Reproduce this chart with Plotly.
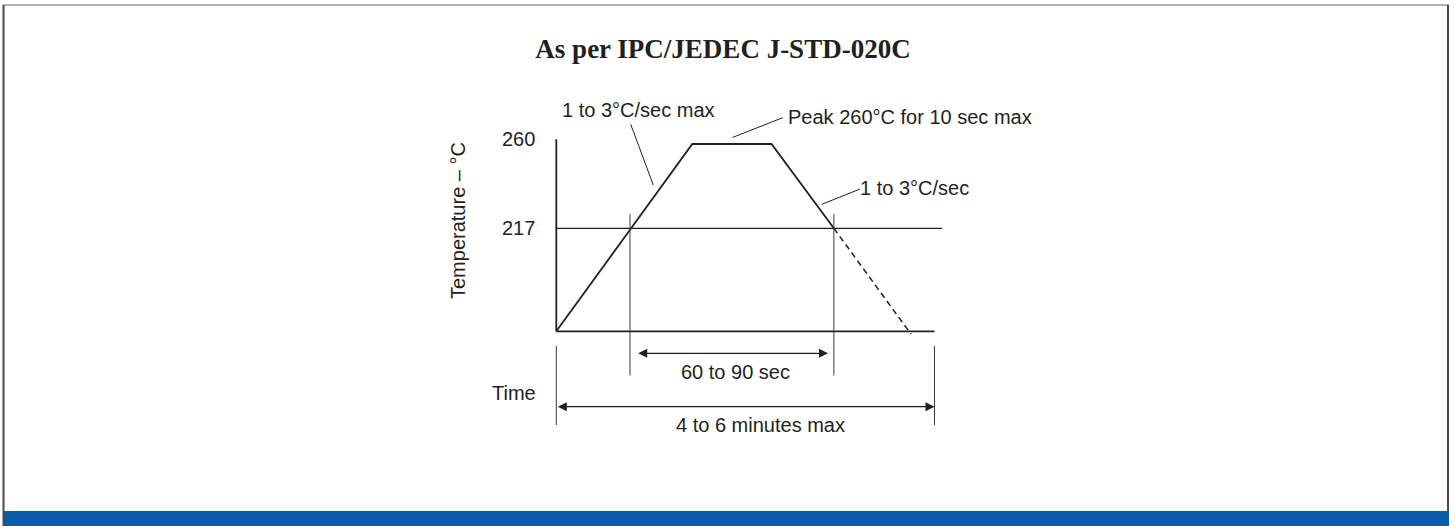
import plotly.graph_objects as go

# ---------------- data (schematic diagram units) ----------------
# time: 0 = start of profile, 100 = end of the "4 to 6 minutes max" window
# temperature level: 0 = baseline, 100 = the 260 °C mark on the axis
tick_labels = ["217", "260"]
tick_levels = [53.65, 100.0]

profile_time = [0.0, 35.96, 56.90, 73.39]
profile_level = [0.0, 97.55, 97.55, 53.65]

cooling_time = [73.39, 93.8]
cooling_level = [53.65, -1.5]

liquidus_level = 53.65
liquidus_end = 102.0
axis_top = 100.0
axis_end = 100.0

tal_marks = [19.49, 73.39]          # 217 °C crossings
tal_arrow = [21.26, 71.84]          # "60 to 90 sec"
total_marks = [0.0, 100.0]          # "4 to 6 minutes max"

labels = ["1 to 3°C/sec max", "Peak 260°C for 10 sec max", "1 to 3°C/sec",
          "60 to 90 sec", "Time", "4 to 6 minutes max"]

# ---------------- layout placement ----------------
W, H = 1455, 526
X0, SX = 556.3, 3.782     # px of time 0, px per time unit
Y0, SY = 331.3, 1.92      # px of level 0, px per level unit
INK = "#231f20"
FONT = "Liberation Sans, Arial, Helvetica, sans-serif"

xr = [(0 - X0) / SX, (W - X0) / SX]
yr = [(Y0 - H) / SY, Y0 / SY]

fig = go.Figure()

def seg(xs, ys, width=1.3, color=INK, dash="solid"):
    fig.add_trace(go.Scatter(x=xs, y=ys, mode="lines", hoverinfo="skip",
                             line=dict(color=color, width=width, dash=dash),
                             showlegend=False, cliponaxis=False))

# axes of the diagram
seg([0, 0], [0, axis_top], width=1.8)
seg([0, axis_end], [0, 0], width=1.8)
# liquidus line
seg([0, liquidus_end], [liquidus_level, liquidus_level], width=1.3)
# profile
seg(profile_time, profile_level, width=1.8)
seg(cooling_time, cooling_level, width=1.5, dash="6px,4px")
# time-above-liquidus markers
for t in tal_marks:
    seg([t, t], [61.0, -23.0], width=1.0, color="#3a3a3a")
# total window markers
for t in total_marks:
    seg([t, t], [-7.7, -48.8], width=1.0, color="#3a3a3a")
# leader lines
seg([19.67, 25.65], [107.8, 76.2], width=1.0)
seg([46.64, 59.86], [101.0, 111.25], width=1.0)
seg([70.17, 80.3], [66.1, 74.1], width=1.0)

annotations = []
# dimension arrows
for (a, b, lv) in [(tal_arrow[0], tal_arrow[1], -11.46), (total_marks[0], total_marks[1], -39.27)]:
    annotations.append(dict(x=b, y=lv, ax=a, ay=lv, xref="x", yref="y", axref="x", ayref="y",
                            text="", showarrow=True, arrowhead=2, arrowsize=1.5,
                            arrowwidth=1.2, arrowcolor=INK, arrowside="end+start",
                            standoff=0, startstandoff=0))

txt_font = dict(family=FONT, size=20, color=INK)
annotations += [
    dict(x=0.85, y=115.3, text=labels[0], xanchor="left", yanchor="middle"),
    dict(x=60.7, y=111.5, text=labels[1], xanchor="left", yanchor="middle"),
    dict(x=79.85, y=74.5, text=labels[2], xanchor="left", yanchor="middle"),
    dict(x=47.25, y=-21.0, text=labels[3], xanchor="center", yanchor="middle"),
    dict(x=-4.85, y=-32.3, text=labels[4], xanchor="right", yanchor="middle"),
    dict(x=53.88, y=-48.8, text=labels[5], xanchor="center", yanchor="middle"),
]
for a in annotations[2:]:
    a.update(xref="x", yref="y", showarrow=False, font=txt_font)

annotations.append(dict(x=458 / W, y=1 - 221 / H, xref="paper", yref="paper",
                        text="Temperature – °C", textangle=-90, showarrow=False,
                        font=txt_font, xanchor="center", yanchor="middle"))

# frame and bottom band
shapes = [
    dict(type="rect", xref="paper", yref="paper", x0=3 / W, x1=1449 / W,
         y0=0, y1=1 - 511 / H, fillcolor="#0b5cab", line=dict(width=0), layer="above"),
    dict(type="line", xref="paper", yref="paper", x0=3 / W, x1=1449 / W,
         y0=1 - 5 / H, y1=1 - 5 / H, line=dict(color="#9a9a9a", width=1.5)),
    dict(type="line", xref="paper", yref="paper", x0=3.5 / W, x1=3.5 / W,
         y0=1 - 5 / H, y1=0, line=dict(color="#4a4a4a", width=2)),
    dict(type="line", xref="paper", yref="paper", x0=1448 / W, x1=1448 / W,
         y0=1 - 5 / H, y1=1 - 511 / H, line=dict(color="#4a4a4a", width=2)),
]

fig.update_layout(
    width=W, height=H, autosize=False,
    margin=dict(l=0, r=0, t=0, b=0, pad=0),
    paper_bgcolor="white", plot_bgcolor="white",
    showlegend=False,
    title=dict(text="<b>As per IPC/JEDEC J-STD-020C</b>", x=723 / W, xanchor="center",
               y=1 - 49 / H, yanchor="middle", yref="paper",
               font=dict(family="Liberation Serif, Times New Roman, serif", size=27, color=INK)),
    xaxis=dict(range=xr, visible=False, fixedrange=True),
    yaxis=dict(range=yr, anchor="free", position=X0 / W, side="left",
               showline=False, showgrid=False, zeroline=False, ticks="",
               tickvals=tick_levels, ticktext=tick_labels, ticklabelstandoff=21,
               tickfont=txt_font, fixedrange=True),
    annotations=annotations,
    shapes=shapes,
)

fig.write_html("out.html", config={"displayModeBar": False},
               post_script="document.body.style.margin='0';")
